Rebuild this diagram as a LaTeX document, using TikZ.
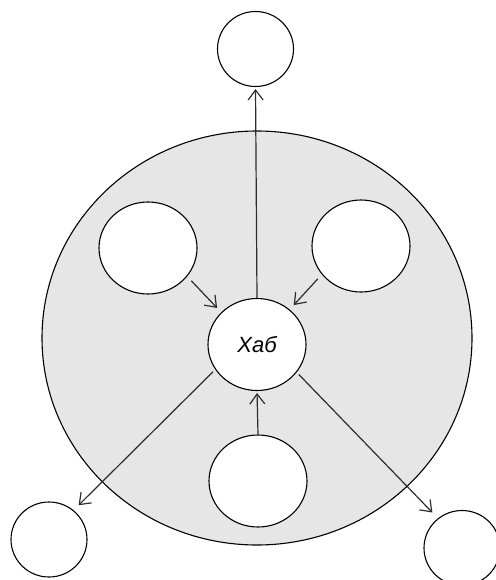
\documentclass[tikz,border=0pt]{standalone}
\usepackage{fontspec}
\newfontfamily\hubfont{Liberation Sans}
\usetikzlibrary{shapes.geometric,arrows.meta}
\definecolor{bgfill}{RGB}{230,230,230}
\definecolor{linecol}{RGB}{45,45,45}
\tikzset{
  blob/.style={ellipse, draw=black, line width=1.1pt, fill=white, inner sep=0pt},
  bigc/.style={blob, minimum width=98pt, minimum height=92pt},
  smallc/.style={blob, minimum width=76pt, minimum height=75pt},
  conn/.style={draw=linecol, line width=1.2pt, -{Straight Barb[length=10pt,width=15pt,line width=1.2pt]}}
}
\begin{document}
\begin{tikzpicture}[x=1pt,y=-1pt]
\useasboundingbox (0,0) rectangle (495,580);
% large shaded circle
\node[ellipse, draw=black, line width=1.1pt, fill=bgfill, inner sep=0pt,
      minimum width=430pt, minimum height=414pt] (outer) at (257,338) {};
% inner nodes
\node[bigc] (hub) at (257,344.5) {\hubfont\itshape\fontsize{22}{26}\selectfont Хаб};
\node[bigc] (ul) at (148,248) {};
\node[bigc] (ur) at (361,246) {};
\node[bigc] (bot) at (258,481) {};
% outer small nodes
\node[smallc] (top) at (255.5,49) {};
\node[smallc] (bl) at (49,539.5) {};
\node[smallc] (br) at (462,548) {};
% connectors
\draw[conn, shorten >=2pt] (hub.north) -- (top.south);
\draw[conn, shorten <=6pt, shorten >=6pt] (ul.-36) -- (hub.138);
\draw[conn, shorten <=6pt, shorten >=6pt] (ur.216) -- (hub.47);
\draw[conn, shorten >=2pt] (bot.north) -- (hub.south);
\draw[conn, shorten <=3pt, shorten >=7pt] (hub.211) -- (bl.50);
\draw[conn, shorten <=3pt, shorten >=8pt] (hub.-35) -- (br.129);
\end{tikzpicture}
\end{document}
